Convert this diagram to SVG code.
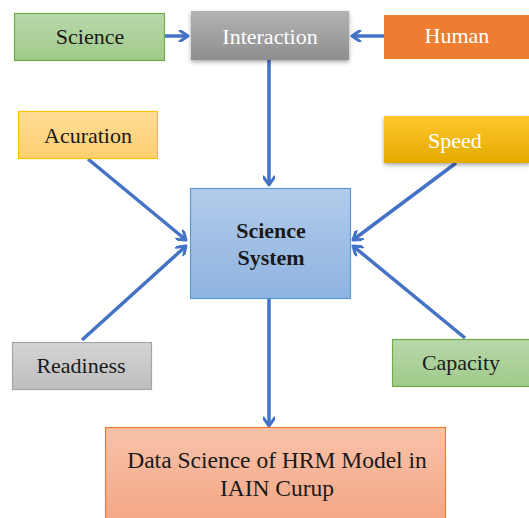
<svg xmlns="http://www.w3.org/2000/svg" width="529" height="518" viewBox="0 0 529 518">
<defs>
<linearGradient id="gGreen" x1="0" y1="0" x2="0" y2="1"><stop offset="0" stop-color="#B8D8AA"/><stop offset="1" stop-color="#A0CA8A"/></linearGradient>
<linearGradient id="gGray" x1="0" y1="0" x2="0" y2="1"><stop offset="0" stop-color="#B3B3B3"/><stop offset="1" stop-color="#8E8E8E"/></linearGradient>
<linearGradient id="gLight" x1="0" y1="0" x2="0" y2="1"><stop offset="0" stop-color="#D4D4D4"/><stop offset="1" stop-color="#BEBEBE"/></linearGradient>
<linearGradient id="gYellow" x1="0" y1="0" x2="0" y2="1"><stop offset="0" stop-color="#FFDC98"/><stop offset="1" stop-color="#FFCF70"/></linearGradient>
<linearGradient id="gGold" x1="0" y1="0" x2="0" y2="1"><stop offset="0" stop-color="#FFC72C"/><stop offset="1" stop-color="#E4AA00"/></linearGradient>
<linearGradient id="gBlue" x1="0" y1="0" x2="0" y2="1"><stop offset="0" stop-color="#B2CBEA"/><stop offset="1" stop-color="#8EB3E0"/></linearGradient>
<linearGradient id="gSalmon" x1="0" y1="0" x2="0" y2="1"><stop offset="0" stop-color="#F8C2AA"/><stop offset="1" stop-color="#F4A684"/></linearGradient>
<filter id="sh" x="-10%" y="-10%" width="120%" height="140%"><feDropShadow dx="0" dy="2" stdDeviation="2" flood-color="#000" flood-opacity="0.35"/></filter>
<marker id="arr" viewBox="0 0 12 12" refX="10" refY="6" markerWidth="12" markerHeight="12" markerUnits="userSpaceOnUse" orient="auto">
<polyline points="2,0.5 10,6 2,11.5" fill="none" stroke="#4472C4" stroke-width="3" stroke-linecap="round" stroke-linejoin="round"/>
</marker>
</defs>
<style>
text{font-family:'Times New Roman','Liberation Serif','DejaVu Serif',serif;font-size:22px;text-anchor:middle}
.dk{fill:#1a1a1a}
.wt{fill:#ffffff}
.big{font-size:23.5px}
.c line{stroke:#4472C4;stroke-width:3.5;marker-end:url(#arr)}
</style>
<g class="c" id="connectors">
<line x1="165" y1="36" x2="188" y2="36"/>
<line x1="384" y1="36" x2="352" y2="36"/>
<line x1="269" y1="60" x2="269" y2="185"/>
<line x1="88" y1="159" x2="186" y2="240"/>
<line x1="456" y1="163" x2="353" y2="240"/>
<line x1="82" y1="340" x2="186" y2="246"/>
<line x1="465" y1="338" x2="353" y2="246"/>
<line x1="269" y1="298" x2="269" y2="426"/>
</g>
<g id="science"><rect x="14.5" y="13.5" width="150" height="47" fill="url(#gGreen)" stroke="#70AD47" stroke-width="1.2"/><text x="90" y="44" class="dk">Science</text></g>
<g id="interaction"><rect x="191" y="11" width="158" height="49" fill="url(#gGray)" filter="url(#sh)"/><text x="270" y="44" class="wt">Interaction</text></g>
<g id="human"><rect x="384" y="15" width="146" height="44" fill="#ED7D31"/><text x="457" y="43" class="wt">Human</text></g>
<g id="acuration"><rect x="18.5" y="111.5" width="139" height="47" fill="url(#gYellow)" stroke="#FFC000" stroke-width="1.2"/><text x="88" y="143" class="dk">Acuration</text></g>
<g id="speed"><rect x="384" y="116" width="146" height="47" fill="url(#gGold)" filter="url(#sh)"/><text x="455" y="148" class="wt">Speed</text></g>
<g id="system"><rect x="190.5" y="188.5" width="160" height="110" fill="url(#gBlue)" stroke="#5B9BD5" stroke-width="1.2"/><text x="271" y="238" class="dk" font-weight="bold">Science</text><text x="271" y="265" class="dk" font-weight="bold">System</text></g>
<g id="readiness"><rect x="12.5" y="342.5" width="139" height="47" fill="url(#gLight)" stroke="#A5A5A5" stroke-width="1.2"/><text x="81" y="373" class="dk">Readiness</text></g>
<g id="capacity"><rect x="392.5" y="339.5" width="140" height="47" fill="url(#gGreen)" stroke="#70AD47" stroke-width="1.2"/><text x="461" y="370" class="dk">Capacity</text></g>
<g id="data"><rect x="105.5" y="427.5" width="340" height="95" fill="url(#gSalmon)" stroke="#ED7D31" stroke-width="1.2"/><text x="277" y="468" class="dk big">Data Science of HRM Model in</text><text x="277" y="496" class="dk big">IAIN Curup</text></g>
</svg>
